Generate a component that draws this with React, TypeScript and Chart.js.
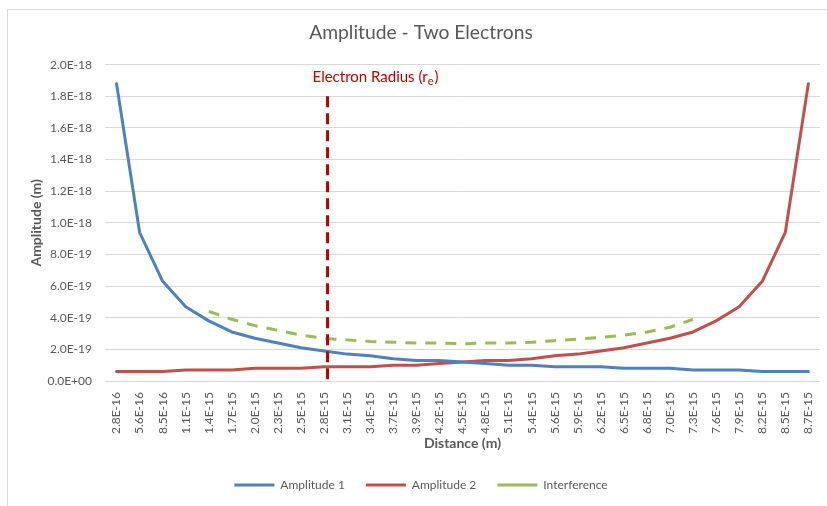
import React, { useEffect, useRef } from "react";
import { Chart, registerables } from "chart.js";

Chart.register(...registerables);

const FONT = "Lato";
const TEXT_COLOR = "#595959";
const GRID_COLOR = "#D9D9D9";

const CHART_TITLE = "Amplitude - Two Electrons";
const X_TITLE = "Distance (m)";
const Y_TITLE = "Amplitude (m)";

const CATEGORIES = [
  "2.8E-16", "5.6E-16", "8.5E-16", "1.1E-15", "1.4E-15", "1.7E-15", "2.0E-15", "2.3E-15",
  "2.5E-15", "2.8E-15", "3.1E-15", "3.4E-15", "3.7E-15", "3.9E-15", "4.2E-15", "4.5E-15",
  "4.8E-15", "5.1E-15", "5.4E-15", "5.6E-15", "5.9E-15", "6.2E-15", "6.5E-15", "6.8E-15",
  "7.0E-15", "7.3E-15", "7.6E-15", "7.9E-15", "8.2E-15", "8.5E-15", "8.7E-15",
];

const AMPLITUDE_1 = [
  18.8e-19, 9.4e-19, 6.3e-19, 4.7e-19, 3.8e-19, 3.1e-19, 2.7e-19, 2.4e-19,
  2.1e-19, 1.9e-19, 1.7e-19, 1.6e-19, 1.4e-19, 1.3e-19, 1.3e-19, 1.2e-19,
  1.1e-19, 1.0e-19, 1.0e-19, 0.9e-19, 0.9e-19, 0.9e-19, 0.8e-19, 0.8e-19,
  0.8e-19, 0.7e-19, 0.7e-19, 0.7e-19, 0.6e-19, 0.6e-19, 0.6e-19,
];

const AMPLITUDE_2 = [
  0.6e-19, 0.6e-19, 0.6e-19, 0.7e-19, 0.7e-19, 0.7e-19, 0.8e-19, 0.8e-19,
  0.8e-19, 0.9e-19, 0.9e-19, 0.9e-19, 1.0e-19, 1.0e-19, 1.1e-19, 1.2e-19,
  1.3e-19, 1.3e-19, 1.4e-19, 1.6e-19, 1.7e-19, 1.9e-19, 2.1e-19, 2.4e-19,
  2.7e-19, 3.1e-19, 3.8e-19, 4.7e-19, 6.3e-19, 9.4e-19, 18.8e-19,
];

const INTERFERENCE = [
  null, null, null, null, 4.4e-19, 3.9e-19, 3.5e-19, 3.2e-19,
  2.9e-19, 2.7e-19, 2.6e-19, 2.5e-19, 2.45e-19, 2.4e-19, 2.4e-19, 2.35e-19,
  2.4e-19, 2.4e-19, 2.45e-19, 2.55e-19, 2.65e-19, 2.75e-19, 2.9e-19, 3.1e-19,
  3.4e-19, 3.9e-19, null, null, null, null, null,
];

const Y_MIN = 0;
const Y_MAX = 2.0e-18;
const Y_STEP = 2.0e-19;

const RADIUS_CATEGORY = "2.8E-15";
const RADIUS_CATEGORY_SHIFT = 0.15;
const RADIUS_LINE_TOP = 1.8e-18;
const RADIUS_LABEL = "Electron Radius (r";
const RADIUS_LABEL_SUB = "e";
const RADIUS_LABEL_END = ")";

function formatSci(v: number): string {
  if (v === 0) return "0.0E+00";
  const [m, e] = v.toExponential(1).split("e");
  const n = parseInt(e, 10);
  const sign = n < 0 ? "-" : "+";
  const abs = Math.abs(n);
  return `${m}E${sign}${abs < 10 ? "0" + abs : abs}`;
}

const radiusPlugin = {
  id: "electronRadius",
  afterDatasetsDraw(chart: any) {
    const { ctx, scales } = chart;
    const x = scales.x;
    const y = scales.y;
    const px = x.getPixelForValue(CATEGORIES.indexOf(RADIUS_CATEGORY) + RADIUS_CATEGORY_SHIFT);
    const top = y.getPixelForValue(RADIUS_LINE_TOP);
    const bottom = y.getPixelForValue(0);
    ctx.save();
    ctx.strokeStyle = "#C00000";
    ctx.lineWidth = 3;
    ctx.setLineDash([11, 6]);
    ctx.beginPath();
    ctx.moveTo(px, top);
    ctx.lineTo(px, bottom);
    ctx.stroke();
    ctx.setLineDash([]);
    ctx.fillStyle = "#C00000";
    ctx.textAlign = "left";
    ctx.textBaseline = "middle";
    const ty = top - 19;
    let tx = px - 15;
    ctx.font = `15px ${FONT}`;
    ctx.fillText(RADIUS_LABEL, tx, ty);
    tx += ctx.measureText(RADIUS_LABEL).width;
    ctx.font = `11px ${FONT}`;
    ctx.fillText(RADIUS_LABEL_SUB, tx, ty + 4);
    tx += ctx.measureText(RADIUS_LABEL_SUB).width + 1;
    ctx.font = `15px ${FONT}`;
    ctx.fillText(RADIUS_LABEL_END, tx, ty);
    ctx.restore();
  },
};

export default function App() {
  const canvasRef = useRef<HTMLCanvasElement | null>(null);

  useEffect(() => {
    if (!canvasRef.current) return;
    const chart = new Chart(canvasRef.current, {
      type: "line",
      data: {
        labels: CATEGORIES,
        datasets: [
          {
            label: "Amplitude 1",
            data: AMPLITUDE_1,
            borderColor: "#4F81BD",
            backgroundColor: "#4F81BD",
            borderWidth: 3,
            pointRadius: 0,
            tension: 0,
            borderCapStyle: "round",
            borderJoinStyle: "round",
          },
          {
            label: "Amplitude 2",
            data: AMPLITUDE_2,
            borderColor: "#C0504D",
            backgroundColor: "#C0504D",
            borderWidth: 3,
            pointRadius: 0,
            tension: 0,
            borderCapStyle: "round",
            borderJoinStyle: "round",
          },
          {
            label: "Interference",
            data: INTERFERENCE as any,
            borderColor: "#9BBB59",
            backgroundColor: "#9BBB59",
            borderWidth: 3,
            borderDash: [11, 9],
            pointRadius: 0,
            tension: 0,
            borderCapStyle: "butt",
          },
        ],
      },
      options: {
        animation: false,
        responsive: false,
        maintainAspectRatio: false,
        layout: { padding: { left: 14, right: 14, top: 0, bottom: 13 } },
        plugins: {
          title: {
            display: true,
            text: CHART_TITLE,
            color: TEXT_COLOR,
            font: { family: FONT, size: 19.3, weight: "normal" },
            padding: { top: 11.5, bottom: 20 },
          },
          legend: {
            position: "bottom",
            labels: {
              usePointStyle: true,
              pointStyle: "line",
              pointStyleWidth: 40,
              color: TEXT_COLOR,
              font: { family: FONT, size: 12 },
              padding: 21,
            },
          },
          tooltip: { enabled: false },
        },
        scales: {
          x: {
            type: "category",
            offset: true,
            grid: { display: false, drawTicks: false },
            border: { display: true, color: GRID_COLOR },
            ticks: {
              color: TEXT_COLOR,
              font: { family: FONT, size: 12 },
              minRotation: 90,
              maxRotation: 90,
              autoSkip: false,
              padding: 11,
            },
            title: {
              display: true,
              text: X_TITLE,
              color: TEXT_COLOR,
              font: { family: FONT, size: 14, weight: "bold" },
              padding: { top: 0, bottom: 6 },
            },
            afterFit: (s: any) => {
              s.height = 77;
            },
          },
          y: {
            min: Y_MIN,
            max: Y_MAX,
            ticks: {
              stepSize: Y_STEP,
              color: TEXT_COLOR,
              font: { family: FONT, size: 12 },
              padding: 13,
              callback: (v: any) => formatSci(Number(v)),
            },
            grid: { color: GRID_COLOR, drawTicks: false, lineWidth: 1 },
            border: { display: false },
            title: {
              display: true,
              text: Y_TITLE,
              color: TEXT_COLOR,
              font: { family: FONT, size: 14, weight: "bold" },
              padding: { top: 6.5, bottom: 0 },
            },
            afterFit: (s: any) => {
              s.width = 83;
            },
          },
        },
      } as any,
      plugins: [radiusPlugin],
    });
    return () => chart.destroy();
  }, []);

  return (
    <div
      style={{
        position: "fixed",
        left: 7,
        top: 9,
        width: 828,
        height: 506,
        boxSizing: "border-box",
        border: `1px solid ${GRID_COLOR}`,
        background: "#FFFFFF",
      }}
    >
      <canvas ref={canvasRef} width={826} height={504} style={{ display: "block", width: 826, height: 504 }} />
    </div>
  );
}
